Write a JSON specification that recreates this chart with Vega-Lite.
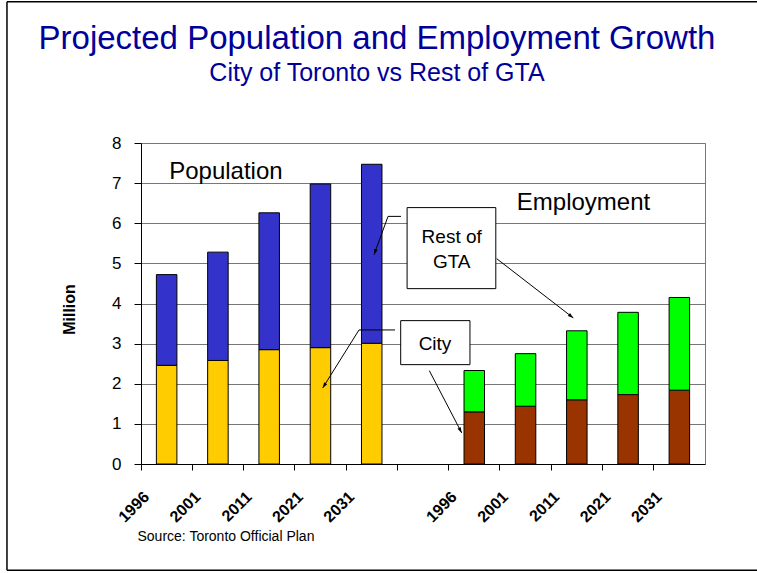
{
  "$schema": "https://vega.github.io/schema/vega-lite/v6.json",
  "width": 564,
  "height": 321,
  "autosize": {"type": "none"},
  "padding": {"left": 141, "top": 143, "right": 52, "bottom": 109},
  "background": "white",
  "config": {
    "font": "Liberation Sans",
    "view": {"stroke": "#777777", "strokeWidth": 1}
  },
  "title": {
    "text": "Projected Population and Employment Growth",
    "subtitle": "City of Toronto vs Rest of GTA",
    "font": "Liberation Sans",
    "subtitleFont": "Liberation Sans",
    "fontSize": 33,
    "subtitleFontSize": 25,
    "fontWeight": "normal",
    "color": "#000099",
    "subtitleColor": "#000099",
    "anchor": "middle",
    "frame": "group",
    "dx": -46,
    "offset": -85,
    "subtitlePadding": 5
  },
  "datasets": {
    "bars": [
      {"slot": "p1996", "group": "City", "series": "City population", "value": 2.46},
      {"slot": "p1996", "group": "Rest", "series": "Rest population", "value": 2.26},
      {"slot": "p2001", "group": "City", "series": "City population", "value": 2.58},
      {"slot": "p2001", "group": "Rest", "series": "Rest population", "value": 2.70},
      {"slot": "p2011", "group": "City", "series": "City population", "value": 2.85},
      {"slot": "p2011", "group": "Rest", "series": "Rest population", "value": 3.41},
      {"slot": "p2021", "group": "City", "series": "City population", "value": 2.90},
      {"slot": "p2021", "group": "Rest", "series": "Rest population", "value": 4.08},
      {"slot": "p2031", "group": "City", "series": "City population", "value": 3.01},
      {"slot": "p2031", "group": "Rest", "series": "Rest population", "value": 4.46},
      {"slot": "e1996", "group": "City", "series": "City employment", "value": 1.30},
      {"slot": "e1996", "group": "Rest", "series": "Rest employment", "value": 1.03},
      {"slot": "e2001", "group": "City", "series": "City employment", "value": 1.44},
      {"slot": "e2001", "group": "Rest", "series": "Rest employment", "value": 1.31},
      {"slot": "e2011", "group": "City", "series": "City employment", "value": 1.60},
      {"slot": "e2011", "group": "Rest", "series": "Rest employment", "value": 1.72},
      {"slot": "e2021", "group": "City", "series": "City employment", "value": 1.73},
      {"slot": "e2021", "group": "Rest", "series": "Rest employment", "value": 2.05},
      {"slot": "e2031", "group": "City", "series": "City employment", "value": 1.84},
      {"slot": "e2031", "group": "Rest", "series": "Rest employment", "value": 2.31}
    ],
    "frame": [
      {"x1": -2.614, "y1": 11.52, "x2": 20, "y2": 11.52},
      {"x1": -2.614, "y1": 11.52, "x2": -2.614, "y2": -2.65},
      {"x1": -2.614, "y1": -2.65, "x2": 20, "y2": -2.65}
    ],
    "boxes": [
      {"x1": 5.19, "x2": 6.92, "y1": 6.39, "y2": 4.37},
      {"x1": 5.065, "x2": 6.416, "y1": 3.573, "y2": 2.476}
    ],
    "segments": [
      {"x1": 5.071, "y1": 6.171, "x2": 4.818, "y2": 6.171},
      {"x1": 4.818, "y1": 6.171, "x2": 4.545, "y2": 5.217},
      {"x1": 6.938, "y1": 5.117, "x2": 8.432, "y2": 3.640},
      {"x1": 4.954, "y1": 3.341, "x2": 4.252, "y2": 3.341},
      {"x1": 4.252, "y1": 3.341, "x2": 3.544, "y2": 1.896},
      {"x1": 5.623, "y1": 2.327, "x2": 6.255, "y2": 0.775}
    ],
    "heads": [
      {"x": 4.545, "y": 5.217, "heading": 200},
      {"x": 8.432, "y": 3.640, "heading": 128},
      {"x": 3.544, "y": 1.896, "heading": 212},
      {"x": 6.255, "y": 0.775, "heading": 152}
    ],
    "bigLabels": [
      {"x": 0.55, "y": 7.10, "text": "Population"},
      {"x": 7.33, "y": 6.32, "text": "Employment"}
    ],
    "boxLabels": [
      {"x": 6.06, "y": 5.508, "text": "Rest of"},
      {"x": 6.06, "y": 4.885, "text": "GTA"},
      {"x": 5.734, "y": 2.833, "text": "City"}
    ]
  },
  "layer": [
    {
      "data": {"name": "bars"},
      "mark": {"type": "bar", "width": {"band": 0.4}, "stroke": "#000000", "strokeWidth": 1},
      "encoding": {
        "x": {
          "field": "slot",
          "type": "nominal",
          "sort": null,
          "scale": {
            "domain": ["p1996", "p2001", "p2011", "p2021", "p2031", "gap", "e1996", "e2001", "e2011", "e2021", "e2031"],
            "paddingInner": 0,
            "paddingOuter": 0
          },
          "axis": {
            "title": "Source: Toronto Official Plan",
            "titleX": -4,
            "titleY": 76.6,
            "titleAlign": "left",
            "titleBaseline": "alphabetic",
            "titleFontSize": 14,
            "titleFontWeight": "normal",
            "titleColor": "#000000",
            "bandPosition": 0,
            "labelAngle": -45,
            "labelAlign": "right",
            "labelBaseline": "middle",
            "labelOffset": -20,
            "labelPadding": 24,
            "labelFontSize": 16,
            "labelFontWeight": "bold",
            "labelColor": "#000000",
            "labelOverlap": false,
            "labelBound": false,
            "labelExpr": "datum.value == 'gap' ? '' : substring(datum.value, 1)",
            "tickSize": 6,
            "tickColor": "#000000",
            "domainColor": "#000000",
            "grid": false
          }
        },
        "y": {
          "field": "value",
          "type": "quantitative",
          "stack": "zero",
          "scale": {"domain": [0, 8], "nice": false},
          "axis": {
            "title": "Million",
            "titleFontSize": 16,
            "titleFontWeight": "bold",
            "titleColor": "#000000",
            "titleX": -67,
            "titleY": 166,
            "titleAngle": -90,
            "titleAlign": "center",
            "titleBaseline": "alphabetic",
            "values": [0, 1, 2, 3, 4, 5, 6, 7, 8],
            "labelFontSize": 17,
            "labelColor": "#000000",
            "labelPadding": 13,
            "tickSize": 7,
            "tickColor": "#000000",
            "domainColor": "#000000",
            "grid": true,
            "gridColor": "#777777",
            "gridOpacity": 1
          }
        },
        "color": {
          "field": "series",
          "type": "nominal",
          "scale": {
            "domain": ["City population", "Rest population", "City employment", "Rest employment"],
            "range": ["#FFCC00", "#3333CC", "#993300", "#00FF00"]
          },
          "legend": null
        },
        "order": {"field": "group", "sort": "ascending"}
      }
    },
    {
      "layer": [
        {
          "data": {"name": "frame"},
          "mark": {"type": "rule", "color": "#000000", "strokeWidth": 1.5},
          "encoding": {
            "x": {"field": "x1", "type": "quantitative", "scale": {"domain": [0, 11], "nice": false, "zero": false}, "axis": null},
            "x2": {"field": "x2"},
            "y": {"field": "y1", "type": "quantitative", "scale": {"domain": [0, 8], "nice": false}},
            "y2": {"field": "y2"}
          }
        },
        {
          "data": {"name": "boxes"},
          "mark": {"type": "rect", "fill": "#FFFFFF", "stroke": "#000000", "strokeWidth": 1},
          "encoding": {
            "x": {"field": "x1", "type": "quantitative", "scale": {"domain": [0, 11], "nice": false, "zero": false}, "axis": null},
            "x2": {"field": "x2"},
            "y": {"field": "y1", "type": "quantitative", "scale": {"domain": [0, 8], "nice": false}},
            "y2": {"field": "y2"}
          }
        },
        {
          "data": {"name": "segments"},
          "mark": {"type": "rule", "color": "#000000", "strokeWidth": 1},
          "encoding": {
            "x": {"field": "x1", "type": "quantitative", "scale": {"domain": [0, 11], "nice": false, "zero": false}, "axis": null},
            "x2": {"field": "x2"},
            "y": {"field": "y1", "type": "quantitative", "scale": {"domain": [0, 8], "nice": false}},
            "y2": {"field": "y2"}
          }
        },
        {
          "data": {"name": "heads"},
          "mark": {"type": "point", "shape": "M0,0L-0.45,1.4L0.45,1.4Z", "filled": true, "color": "#000000", "opacity": 1, "size": 64},
          "encoding": {
            "x": {"field": "x", "type": "quantitative", "scale": {"domain": [0, 11], "nice": false, "zero": false}, "axis": null},
            "y": {"field": "y", "type": "quantitative", "scale": {"domain": [0, 8], "nice": false}},
            "angle": {"field": "heading", "type": "quantitative", "scale": null}
          }
        },
        {
          "data": {"name": "bigLabels"},
          "mark": {"type": "text", "align": "left", "baseline": "alphabetic", "fontSize": 24, "color": "#000000"},
          "encoding": {
            "x": {"field": "x", "type": "quantitative", "scale": {"domain": [0, 11], "nice": false, "zero": false}, "axis": null},
            "y": {"field": "y", "type": "quantitative", "scale": {"domain": [0, 8], "nice": false}},
            "text": {"field": "text"}
          }
        },
        {
          "data": {"name": "boxLabels"},
          "mark": {"type": "text", "align": "center", "baseline": "alphabetic", "fontSize": 19, "color": "#000000"},
          "encoding": {
            "x": {"field": "x", "type": "quantitative", "scale": {"domain": [0, 11], "nice": false, "zero": false}, "axis": null},
            "y": {"field": "y", "type": "quantitative", "scale": {"domain": [0, 8], "nice": false}},
            "text": {"field": "text"}
          }
        }
      ]
    }
  ],
  "resolve": {"scale": {"x": "independent"}, "axis": {"x": "independent"}}
}
